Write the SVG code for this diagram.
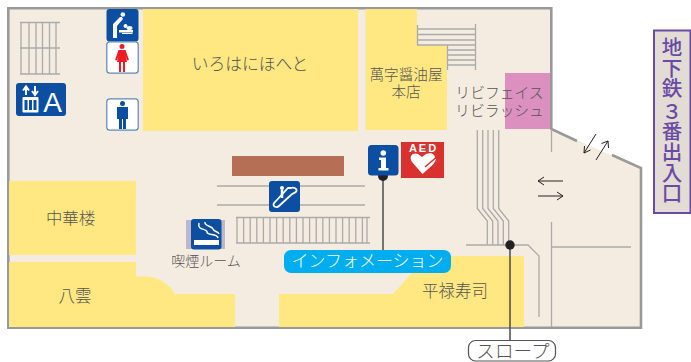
<svg xmlns="http://www.w3.org/2000/svg" width="691" height="362" viewBox="0 0 691 362">
<style>
text{font-family:"Noto Sans CJK JP","Noto Sans",sans-serif;font-weight:300;fill:#555;text-anchor:middle}
.tight{font-family:"Liberation Sans","Noto Sans CJK JP",sans-serif}
.shop{fill:#ffe881}
.ln{fill:none;stroke:#aaa;stroke-width:1.3}
.wall{fill:none;stroke:#999;stroke-width:2.6}
.ic{fill:#0b4ea2}
.wc{fill:#fff;stroke:#5f86bb;stroke-width:1.2}
.ar{fill:none;stroke:#222;stroke-width:1}
.ldr{stroke:#555;stroke-width:1.6;fill:none}
</style>
<g id="floor">
<path d="M8 8H551V129L641 168V328H8Z" fill="#f5ece1"/>
<path class="wall" d="M577 141L551.300 129V8.300H8.300V327.700H641V168L612 155"/>
</g>
<g id="shop-iroha"><rect class="shop" x="143" y="9" width="215" height="122"/><text x="250" y="70" font-size="16.800">いろはにほへと</text></g>
<g id="shop-manji"><path class="shop" d="M365.500 9H417V45H447V130H365.500Z"/><text class="tight" x="406" y="80" font-size="14.600">萬字醤油屋</text><text class="tight" x="406" y="96.800" font-size="14.600">本店</text></g>
<g id="shop-chuka"><rect class="shop" x="9" y="181" width="127" height="74"/><text x="70.500" y="224" font-size="16.400">中華楼</text></g>
<g id="shop-yakumo"><path class="shop" d="M9 262H136V276.500H146C160 277 170 285 175 294H235V327H9Z"/><text x="75" y="302" font-size="16.500">八雲</text></g>
<g id="shop-heiroku"><path class="shop" d="M279 294H393L412 273V256H524V327H279Z"/><text x="455" y="297" font-size="16.500">平禄寿司</text></g>
<g id="brown-block"><rect x="232" y="156" width="112" height="20" fill="#b56f55"/></g>
<g id="pink-block"><rect x="505" y="73" width="45" height="56" fill="#db90bf"/></g>
<g id="label-livi"><text class="tight" x="499.500" y="98" font-size="14.800">リビフェイス</text><text class="tight" x="499.500" y="116" font-size="14.800">リビラッシュ</text></g>
<g id="stairs">
<path class="ln" d="M20 22.500H60M20 48H60M20 74H60M21 22V74M29 22V74M36 22V74M42.500 22V74M49.500 22V74M56 22V74"/>
<path class="ln" d="M417.500 25V45.500M417 29H475M417 34.500H475M417 40H475M417 45H475M447.500 45V70M447 50H475M447 55H475M447 60H475M447 65H475M475.500 24V70"/>
<path class="ln" d="M217 186H365M217 205H365"/>
<path class="ln" d="M236 217.500H370M236 243H370M237 217V243M243.600 217V243M250.200 217V243M256.800 217V243M263.400 217V243M270 217V243M276.600 217V243M283.200 217V243M289.800 217V243M296.400 217V243M303 217V243M309.600 217V243M316.200 217V243M322.800 217V243M329.400 217V243M336 217V243M342.600 217V243M349.200 217V243M355.800 217V243M362.400 217V243M367 217V243"/>
</g>
<g id="connectors">
<path class="ln" d="M477.300 130V208.500L487.300 221V245M482.700 130V208.500L492.700 221V245M488 130V208.500L498 221V245M493.300 130V208.500L503.300 221V245M498.700 130V208.500L508.700 221V245"/>
<path class="ln" d="M466 245H528L539 256V317"/>
<path class="ln" d="M551.500 129V152M551.500 222V327M551.500 247H631"/>
<path class="ar" d="M596 134L584 153M584.500 146L584 153L590.500 150"/>
<path class="ar" d="M596 160L608 141M601.500 143.500L608 141L608.500 148"/>
<path class="ar" d="M563 181H538M544 177L538 181L544 185"/>
<path class="ar" d="M538 196H563M557 192L563 196L557 200"/>
<path class="ldr" d="M383 176V250M510 245V340"/>
<circle cx="383" cy="176" r="5" fill="#222"/>
<circle cx="510" cy="245" r="4.700" fill="#222"/>
</g>
<g id="icon-baby">
<rect class="ic" x="106.500" y="9" width="32" height="32.500" rx="3"/>
<circle cx="122.800" cy="14.500" r="2.300" fill="#fff"/>
<path d="M113 38V24L120 17H122L123 19L117 26V38Z" fill="#fff"/>
<path d="M119 30H133V32.500H119ZM122 33H132.500V34H122Z" fill="#fff"/>
<circle cx="125.500" cy="26" r="2" fill="#fff"/><ellipse cx="129.500" cy="28" rx="3" ry="2" fill="#fff"/>
</g>
<g id="icon-female">
<rect class="wc" x="106.800" y="41.800" width="31.400" height="31.400" rx="3"/>
<circle cx="122" cy="46.500" r="2.500" fill="#ed1c24"/>
<path d="M118.500 50H125.500L129 60L127 60.500L125.500 56L127 62H125V72H123V62H121V72H119V62H117L118.500 56L117 60.500L115 60Z" fill="#ed1c24"/>
</g>
<g id="icon-male">
<rect class="wc" x="106.800" y="98.800" width="31.400" height="31.400" rx="3"/>
<circle cx="122.500" cy="103.500" r="2.500" fill="#0b4ea2"/>
<path d="M117 107H128V119H126V129H123V119H122V129H119V119H117Z" fill="#0b4ea2"/>
</g>
<g id="icon-elevator">
<rect class="ic" x="16" y="83" width="50" height="33" rx="3"/>
<path d="M26 95V88M23 90.500L26 86.500L29 90.500M35 86V93M32 91L35 95L38 91" stroke="#fff" stroke-width="2" fill="none"/>
<rect x="22.500" y="97" width="16" height="15.500" fill="#fff" rx="1"/>
<rect x="24.500" y="100" width="3" height="10" class="ic"/><rect x="29" y="100" width="3" height="10" class="ic"/><rect x="33.500" y="100" width="3" height="10" class="ic"/>
<text x="52.500" y="112" font-size="28" style="fill:#fff;font-family:'Liberation Sans',sans-serif;font-weight:400">A</text>
</g>
<g id="icon-info">
<rect class="ic" x="368" y="145" width="30.500" height="30.500" rx="3.500"/>
<circle cx="383.300" cy="153" r="2.800" fill="#fff"/>
<path d="M379 157.500H386V168H388.500V170.500H378.500V168H381V160H379Z" fill="#fff"/>
</g>
<g id="icon-aed">
<rect x="401" y="142" width="43" height="36" fill="#d9322e"/>
<text x="423.500" y="152" font-size="11" style="fill:#fff;font-family:'Liberation Sans',sans-serif;font-weight:700;letter-spacing:2px">AED</text>
<path d="M422.500 174L412 162C408 155 414 152 418 154L422 157L426 154C431 152 435 154 435 158L437 161Z" fill="#fff"/>
<path d="M425 167L439 155L434 165" fill="none" stroke="#d9322e" stroke-width="1.500"/>
</g>
<g id="icon-escalator">
<rect class="ic" x="269" y="181" width="31" height="31" rx="3"/>
<circle cx="282" cy="188" r="2" fill="#fff"/>
<path d="M274 203C272 207 277 208 279 206L291 195C293 193 296 193 296.500 191C297 188 293 187 291 188H288L276 201Z" fill="none" stroke="#fff" stroke-width="1.800"/>
<path d="M282 190V198" stroke="#fff" stroke-width="2.500"/>
</g>
<g id="icon-smoking">
<rect x="186" y="220" width="39" height="29" fill="#bcb8c6"/>
<rect class="ic" x="191" y="219" width="30.500" height="30.500" rx="3"/>
<rect x="194" y="240" width="25" height="5" fill="#fff"/>
<path d="M199 223C197 231 207 228 207 232C207 236 217 233 218 238M205 222C204 226 212 226 213 229C214 232 218 231 219 234" fill="none" stroke="#fff" stroke-width="1.500"/>
<text x="206" y="266" font-size="14">喫煙ルーム</text>
</g>
<g id="label-info">
<rect x="284" y="250" width="167" height="23" rx="7" fill="#00aeef"/>
<text x="367.500" y="267" font-size="17" style="fill:#fff">インフォメーション</text>
</g>
<g id="label-slope">
<rect x="468.500" y="340.500" width="87" height="20.500" rx="7" fill="#fff" stroke="#555" stroke-width="1.200"/>
<text x="513" y="358" font-size="18.600">スロープ</text>
</g>
<g id="label-exit">
<rect x="654" y="30.500" width="36.500" height="182.500" fill="#e3dcd5" stroke="#6a4aa5" stroke-width="2"/>
<text x="672 672 672 672 672 672 672 672" y="55 76 96 119 139 160 181 201" font-size="20.500" style="fill:#6a4aa5;font-weight:500">地下鉄３番出入口</text>
</g>
</svg>
